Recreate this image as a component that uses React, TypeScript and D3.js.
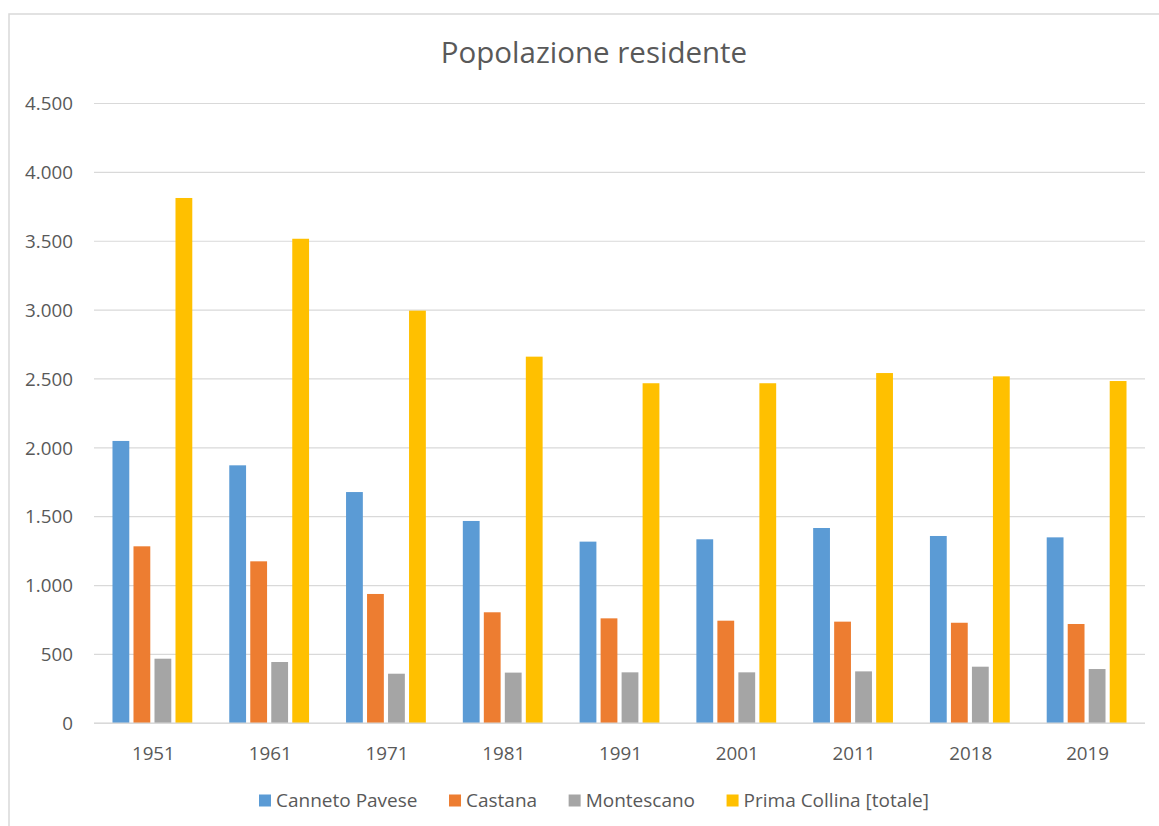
import React, { useEffect, useRef } from "react";
import * as d3 from "d3";

const years = ["1951", "1961", "1971", "1981", "1991", "2001", "2011", "2018", "2019"];
const seriesNames = ["Canneto Pavese", "Castana", "Montescano", "Prima Collina [totale]"];
const cannetoPavese = [2050, 1873, 1679, 1469, 1319, 1336, 1418, 1360, 1350];
const castana = [1285, 1176, 939, 806, 762, 745, 738, 730, 721];
const montescano = [469, 445, 360, 368, 370, 370, 377, 411, 394];
const primaCollina = [3814, 3518, 2996, 2662, 2469, 2469, 2543, 2519, 2485];
const seriesColors = ["#5B9BD5", "#ED7D31", "#A5A5A5", "#FFC000"];
const yTicks = [0, 500, 1000, 1500, 2000, 2500, 3000, 3500, 4000, 4500];
const title = "Popolazione residente";

const W = 1159;
const H = 826;
const FONT = "'Open Sans', sans-serif";
const TEXT = "#595959";

export default function App() {
  const ref = useRef<SVGSVGElement>(null);

  useEffect(() => {
    const svg = d3.select(ref.current);
    svg.selectAll("*").remove();

    const values = [cannetoPavese, castana, montescano, primaCollina];
    const left = 94, right = 1145, top = 103.5, bottom = 723.3;
    const centerX = 594;

    // chart frame
    svg.append("rect")
      .attr("x", 9).attr("y", 14)
      .attr("width", 1170).attr("height", 900)
      .attr("fill", "#fff")
      .attr("stroke", "#D9D9D9").attr("stroke-width", 1.5);

    const x0 = d3.scaleBand<string>().domain(years).range([left, right])
      .paddingInner(1 - 84 / ((right - left) / years.length))
      .paddingOuter((1 - 84 / ((right - left) / years.length)) / 2);
    const x1 = d3.scaleBand<string>().domain(seriesNames).range([0, x0.bandwidth()])
      .paddingInner(0.2).paddingOuter(0.1);
    const y = d3.scaleLinear().domain([0, 4500]).range([bottom, top]);

    // gridlines
    svg.append("g").selectAll("line").data(yTicks).join("line")
      .attr("x1", left).attr("x2", right)
      .attr("y1", d => y(d)).attr("y2", d => y(d))
      .attr("stroke", "#D9D9D9").attr("stroke-width", 1.2);

    // y tick labels
    const fmt = (v: number) => d3.format(",")(v).replace(/,/g, ".");
    svg.append("g").selectAll("text").data(yTicks).join("text")
      .attr("x", 73).attr("y", d => y(d))
      .attr("dy", "0.36em")
      .attr("text-anchor", "end")
      .attr("font-family", FONT).attr("font-size", 18.8)
      .attr("fill", TEXT)
      .text(d => fmt(d));

    // bars
    const g = svg.append("g");
    seriesNames.forEach((s, si) => {
      g.append("g").selectAll("rect").data(values[si]).join("rect")
        .attr("x", (_d, i) => (x0(years[i]) as number) + (x1(s) as number))
        .attr("width", x1.bandwidth())
        .attr("y", d => y(d))
        .attr("height", d => y(0) - y(d))
        .attr("fill", seriesColors[si]);
    });

    // baseline
    svg.append("line")
      .attr("x1", left).attr("x2", right)
      .attr("y1", y(0)).attr("y2", y(0))
      .attr("stroke", "#D9D9D9").attr("stroke-width", 1.5);

    // x labels
    svg.append("g").selectAll("text").data(years).join("text")
      .attr("x", d => (x0(d) as number) + x0.bandwidth() / 2 + 1)
      .attr("y", 760)
      .attr("text-anchor", "middle")
      .attr("font-family", FONT).attr("font-size", 18.8)
      .attr("fill", TEXT)
      .text(d => d);

    // title
    svg.append("text")
      .attr("x", centerX).attr("y", 63)
      .attr("text-anchor", "middle")
      .attr("font-family", FONT).attr("font-size", 29.5)
      .attr("fill", TEXT)
      .text(title);

    // legend
    const lg = svg.append("g");
    const items = seriesNames.map((s, i) => {
      const it = lg.append("g");
      it.append("rect").attr("width", 12).attr("height", 12)
        .attr("y", 794.5).attr("fill", seriesColors[i]);
      const t = it.append("text").attr("x", 17).attr("y", 806.5)
        .attr("font-family", FONT).attr("font-size", 19)
        .attr("fill", TEXT).text(s);
      const w = (t.node() as SVGTextElement).getComputedTextLength();
      return { it, w: 17 + w };
    });
    const gap = 31.5;
    const total = d3.sum(items, d => d.w) + gap * (items.length - 1);
    let cx = centerX - total / 2;
    items.forEach(d => {
      d.it.attr("transform", `translate(${cx},0)`);
      cx += d.w + gap;
    });
  }, []);

  return (
    <svg
      ref={ref}
      width={W}
      height={H}
      style={{ position: "absolute", left: 0, top: 0, background: "#fff" }}
    />
  );
}
